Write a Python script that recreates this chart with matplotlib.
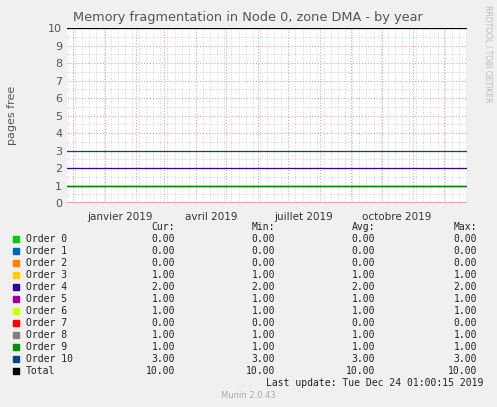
import datetime as dt
import matplotlib
matplotlib.use("Agg")
import matplotlib.pyplot as plt
import matplotlib.dates as mdates

orders = ["Order 0", "Order 1", "Order 2", "Order 3", "Order 4", "Order 5",
          "Order 6", "Order 7", "Order 8", "Order 9", "Order 10", "Total"]
colors = ["#00CC00", "#0066B3", "#FF8000", "#FFCC00", "#330099", "#990099",
          "#CCFF00", "#FF0000", "#808080", "#008F00", "#00487D", "#000000"]
cur = [0, 0, 0, 1, 2, 1, 1, 0, 1, 1, 3, 10]
mins = [0, 0, 0, 1, 2, 1, 1, 0, 1, 1, 3, 10]
avgs = [0, 0, 0, 1, 2, 1, 1, 0, 1, 1, 3, 10]
maxs = [0, 0, 0, 1, 2, 1, 1, 0, 1, 1, 3, 10]

start = dt.datetime(2018, 11, 25)
end = dt.datetime(2019, 12, 24, 1)

W, H = 497, 407
fig = plt.figure(figsize=(W / 100, H / 100), dpi=100, facecolor="#F0F0F0")
ax = fig.add_axes([67 / W, 1 - 203 / H, 400 / W, 175 / H], facecolor="white")

for name, c, v in zip(orders, colors, cur):
    ax.plot([start, end], [v, v], color=c, lw=0.9, zorder=3)
ax.axhline(0, color="#E8A0A0", lw=1.2, zorder=4)

ax.set_xlim(start, end)
ax.set_ylim(0, 10)
ax.set_yticks(range(11))
ax.set_yticks([i + 0.5 for i in range(10)], minor=True)
ax.xaxis.set_major_locator(mdates.MonthLocator())
ax.xaxis.set_minor_locator(mdates.WeekdayLocator(byweekday=0))
ax.xaxis.set_major_formatter(plt.NullFormatter())
ax.grid(which="major", color="#E8A0A0", ls=":", lw=0.8)
ax.grid(which="minor", color="#C8C8C8", ls=":", lw=0.6)
ax.tick_params(which="both", length=0, labelsize=8, colors="#555555")
for s in ax.spines.values():
    s.set_visible(False)
for m, lab in [(1, "janvier 2019"), (4, "avril 2019"), (7, "juillet 2019"), (10, "octobre 2019")]:
    ax.text(dt.datetime(2019, m, 16), -0.5, lab, ha="center", va="top",
            fontsize=7.5, color="#333333")

fig.text(73 / W, 1 - 18 / H, "Memory fragmentation in Node 0, zone DMA - by year",
         fontsize=9.3, color="#555555", va="center")
fig.text(12 / W, 1 - 115 / H, "pages free", rotation=90, fontsize=8,
         color="#555555", ha="center", va="center")
fig.text(488 / W, 1 - 5 / H, "RRDTOOL / TOBI OETIKER", rotation=270, fontsize=5.5,
         color="#BBBBBB", ha="center", va="top")

mono = dict(family="DejaVu Sans Mono", fontsize=7, color="#222222", va="center")
y0 = 227
for x, h in [(175, "Cur:"), (275, "Min:"), (375, "Avg:"), (477, "Max:")]:
    fig.text(x / W, 1 - y0 / H, h, ha="right", **mono)
for i, name in enumerate(orders):
    y = 1 - (239 + 12 * i) / H
    fig.patches.append(plt.Rectangle((13 / W, y - 3 / H), 6 / W, 6 / H,
                                     color=colors[i], transform=fig.transFigure))
    fig.text(26 / W, y, name, ha="left", **mono)
    for x, vals in [(175, cur), (275, mins), (375, avgs), (477, maxs)]:
        fig.text(x / W, y, "%.2f" % vals[i], ha="right", **mono)
fig.text(483 / W, 1 - 383 / H, "Last update: Tue Dec 24 01:00:15 2019", ha="right", **mono)
fig.text(248 / W, 1 - 395 / H, "Munin 2.0.43", ha="center", family="DejaVu Sans",
         fontsize=6, color="#AAAAAA", va="center")

fig.savefig("out.png", dpi=100, facecolor=fig.get_facecolor())
